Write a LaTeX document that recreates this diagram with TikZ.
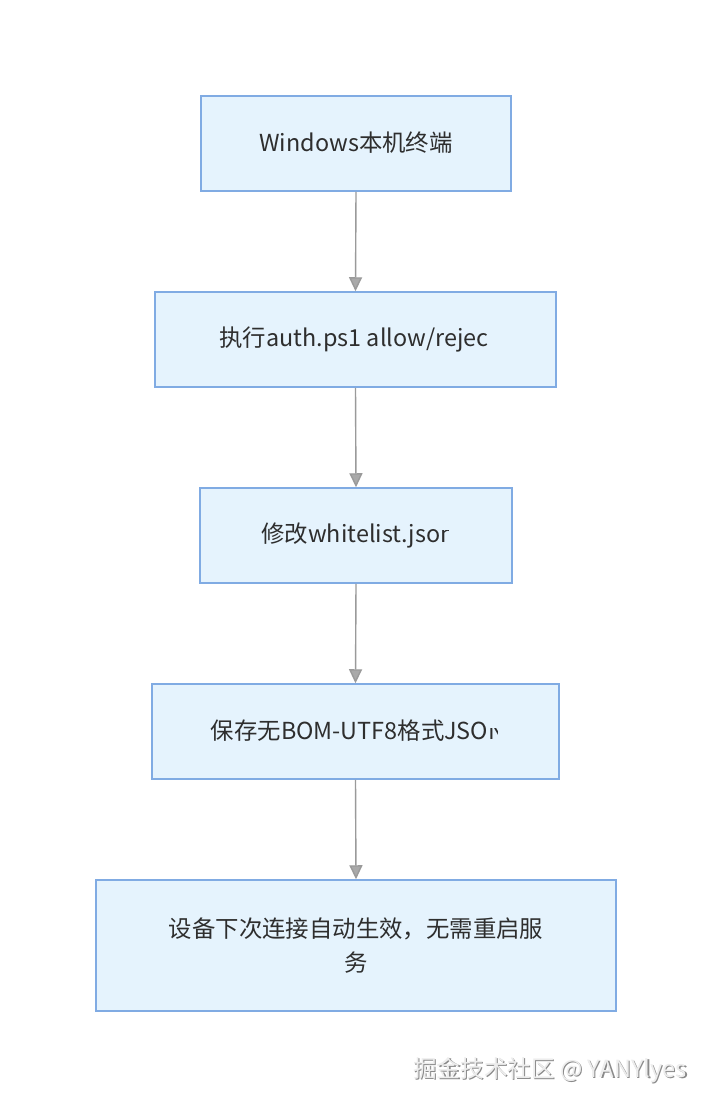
\documentclass[tikz,border=0pt]{standalone}
\usepackage{fontspec}
\setmainfont{Noto Sans CJK SC}
\usetikzlibrary{arrows.meta}
\definecolor{boxfill}{HTML}{E5F3FD}
\definecolor{boxline}{HTML}{80ABE3}
\definecolor{txtcol}{HTML}{2E2E2E}
\definecolor{arrcol}{HTML}{9A9A9A}
\definecolor{wmshadow}{HTML}{8A8A8A}
\definecolor{wmtext}{HTML}{EDEDED}
\tikzset{
  flowbox/.style={draw=boxline, fill=boxfill, line width=1.5pt, inner sep=0pt},
  txt/.style={text=txtcol, inner sep=0pt, font=\fontsize{23.4}{34}\selectfont},
  flowarrow/.style={draw=arrcol, line width=1.4pt, -{Triangle[width=13pt,length=14pt,fill=arrcol!85]}},
  wm/.style={inner sep=0pt, font=\fontsize{23.6}{28}\selectfont}
}
\begin{document}
\begin{tikzpicture}[x=1pt,y=-1pt]
\useasboundingbox[fill=white] (0,0) rectangle (712,1108);
% boxes
\node[flowbox, minimum width=310pt, minimum height=95pt] (b1) at (356,143.5) {};
\node[flowbox, minimum width=401pt, minimum height=95pt] (b2) at (355.5,339.5) {};
\node[flowbox, minimum width=312pt, minimum height=95pt] (b3) at (356,535.5) {};
\node[flowbox, minimum width=407pt, minimum height=95pt] (b4) at (355.5,731.5) {};
\node[flowbox, minimum width=520pt, minimum height=131pt] (b5) at (356,945.5) {};
% texts
\node[txt] (t1) at (356,143) {Windows本机终端};
\node[txt] (t2) at (354,339) {执行auth.ps1 allow/rejec};
\node[txt] (t3) at (358,535) {修改whitelist.jso\phantom{n}};
\begin{scope}
  \clip (t3.south west) ++(0,8) rectangle ([xshift=-6pt,yshift=-8pt]t3.north east);
  \node[txt, anchor=base east] (t3n) at (t3.base east) {n};
\end{scope}
\node[txt] (t4) at (358,731) {保存无BOM-UTF8格式JSO\phantom{N}};
\begin{scope}
  \clip (t4.south west) ++(0,8) rectangle ([xshift=-8pt,yshift=-8pt]t4.north east);
  \node[txt, anchor=base east] (t4n) at (t4.base east) {N};
\end{scope}
\node[txt, align=center] (t5) at (356,946) {设备下次连接自动生效，无需重启服\\务};
% arrows
\draw[flowarrow] (b1.south) -- (b2.north);
\draw[flowarrow] (b2.south) -- (b3.north);
\draw[flowarrow] (b3.south) -- (b4.north);
\draw[flowarrow] (b4.south) -- (b5.north);
% watermark
\node[wm, text=wmshadow, anchor=west] (wms) at (414.2,1071.2) {掘金技术社区 @ YANYlyes};
\node[wm, text=wmtext, anchor=west] (wmt) at (413,1070) {掘金技术社区 @ YANYlyes};
\end{tikzpicture}
\end{document}
